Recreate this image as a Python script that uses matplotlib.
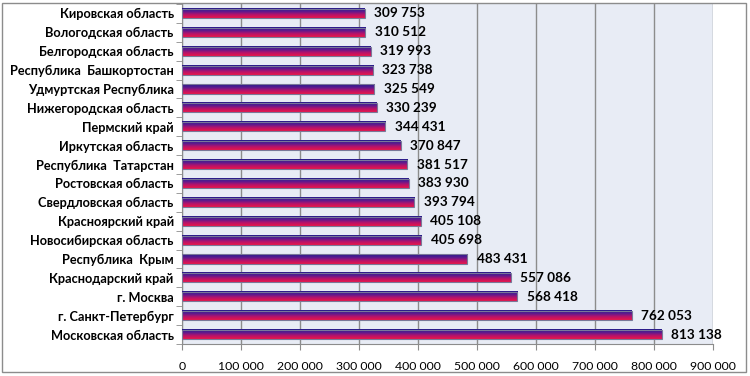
import matplotlib.pyplot as plt
import numpy as np
from matplotlib.colors import LinearSegmentedColormap
from matplotlib.patches import Rectangle
from matplotlib.ticker import FuncFormatter, MultipleLocator

regions = [
    "Кировская область", "Вологодская область", "Белгородская область",
    "Республика  Башкортостан", "Удмуртская Республика",
    "Нижегородская область", "Пермский край", "Иркутская область",
    "Республика  Татарстан", "Ростовская область", "Свердловская область",
    "Красноярский край", "Новосибирская область", "Республика  Крым",
    "Краснодарский край", "г. Москва", "г. Санкт-Петербург",
    "Московская область",
]
values = [309753, 310512, 319993, 323738, 325549, 330239, 344431, 370847,
          381517, 383930, 393794, 405108, 405698, 483431, 557086, 568418,
          762053, 813138]

plt.rcParams['font.family'] = ['Lato', 'DejaVu Sans']

fig = plt.figure(figsize=(7.5, 3.76), dpi=100)
ax = fig.add_axes([182 / 750, 1 - 344 / 376, (713 - 182) / 750, 340 / 376])
ax.set_facecolor('#e8ecf5')

cmap = LinearSegmentedColormap.from_list(
    'bar', ['#22188a', '#5a1a90', '#b8136a', '#e8164a'])
grad = np.linspace(0, 1, 64).reshape(-1, 1)

n = len(regions)
h = 0.48
for i, (name, v) in enumerate(zip(regions, values)):
    y = n - 1 - i
    ax.imshow(grad, extent=(0, v, y - h / 2, y + h / 2), aspect='auto',
              cmap=cmap, origin='upper', zorder=3, interpolation='bilinear')
    ax.add_patch(Rectangle((0, y - h / 2), v, h, fill=False,
                           edgecolor='#7a7898', lw=0.8, zorder=4))
    ax.text(v + 16000, y, f"{v:,}".replace(",", " "), va='center',
            ha='left', fontsize=9.8, fontweight='bold', zorder=5)

ax.set_xlim(0, 900000)
ax.set_ylim(-0.5, n - 0.5)
ax.set_yticks(range(n))
ax.set_yticklabels(regions[::-1], fontsize=9.2, fontweight='bold')
ax.set_yticks(np.arange(-0.5, n, 1), minor=True)
ax.tick_params(axis='y', which='major', length=0, pad=6)
ax.tick_params(axis='y', which='minor', length=4, color='#8c8c8c')
ax.xaxis.set_major_locator(MultipleLocator(100000))
ax.xaxis.set_major_formatter(
    FuncFormatter(lambda x, p: f"{int(x):,}".replace(",", " ")))
ax.tick_params(axis='x', length=4, color='#8c8c8c', labelsize=8.8, pad=8)
ax.grid(axis='x', color='#8c8c8c', lw=1, zorder=1)
ax.set_axisbelow(True)
for s in ['top', 'right']:
    ax.spines[s].set_visible(False)
ax.spines['left'].set_color('#8c8c8c')
ax.spines['bottom'].set_color('#8c8c8c')

fig.patches.append(Rectangle((2 / 750, 4 / 376), 744 / 750, 369 / 376,
                             transform=fig.transFigure, fill=False,
                             edgecolor='#8c8c8c', lw=1))

fig.savefig('out.png', dpi=100)
